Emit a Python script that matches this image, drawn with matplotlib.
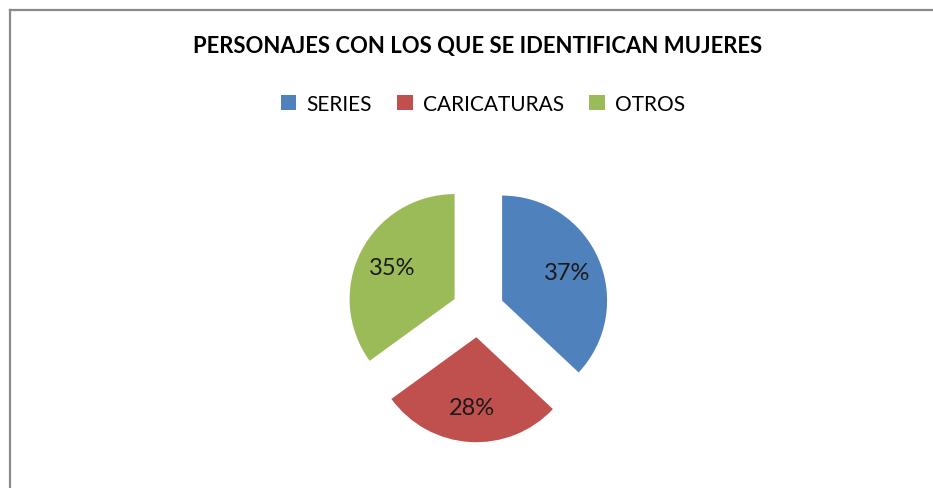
import matplotlib
matplotlib.use("Agg")
import matplotlib.pyplot as plt
from matplotlib.patches import Patch
from matplotlib.lines import Line2D

plt.rcParams["font.family"] = ["Lato", "DejaVu Sans"]

categories = ["SERIES", "CARICATURAS", "OTROS"]
values = [37, 28, 35]
colors = ["#4F81BD", "#C0504D", "#9BBB59"]
title = "PERSONAJES CON LOS QUE SE IDENTIFICAN MUJERES"

W, H = 933, 489
fig = plt.figure(figsize=(W / 100, H / 100), dpi=100)
fig.patch.set_facecolor("white")

# border
fig.add_artist(Line2D([10 / W, 10 / W], [0, 1 - 11 / H], transform=fig.transFigure,
                      color="#8a8a8a", lw=1.6))
fig.add_artist(Line2D([10 / W, 1], [1 - 11 / H, 1 - 11 / H], transform=fig.transFigure,
                      color="#8a8a8a", lw=1.6))

fig.text(478 / W, 1 - 47 / H, title, ha="center", va="center",
         fontsize=15.9, fontweight="bold", color="black", family=["Lato", "DejaVu Sans"])

# pie axes
cx, cy, R = 478, 312, 105
half = 1.5 * R
ax = fig.add_axes([(cx - half) / W, (H - cy - half) / H, 2 * half / W, 2 * half / H])
wedges, texts, autotexts = ax.pie(values, colors=colors, startangle=90, counterclock=False,
                                  explode=[0.25] * 3, autopct="%1.0f%%", pctdistance=0.67,
                                  textprops=dict(fontsize=17, color="#1a1a1a",
                                                 family=["Lato", "DejaVu Sans"]))
ax.set_xlim(-1.5, 1.5)
ax.set_ylim(-1.5, 1.5)
ax.set_aspect("equal")
ax.axis("off")

handles = [Patch(facecolor=c, edgecolor="none") for c in colors]
fig.legend(handles, categories, loc="center", bbox_to_anchor=(483 / W, 1 - 105 / H),
           ncol=3, frameon=False, handlelength=0.75, handleheight=0.75,
           handletextpad=0.5, columnspacing=1.2,
           prop=dict(family=["Lato", "DejaVu Sans"], size=15))

fig.savefig("out.png", dpi=100, facecolor="white")
